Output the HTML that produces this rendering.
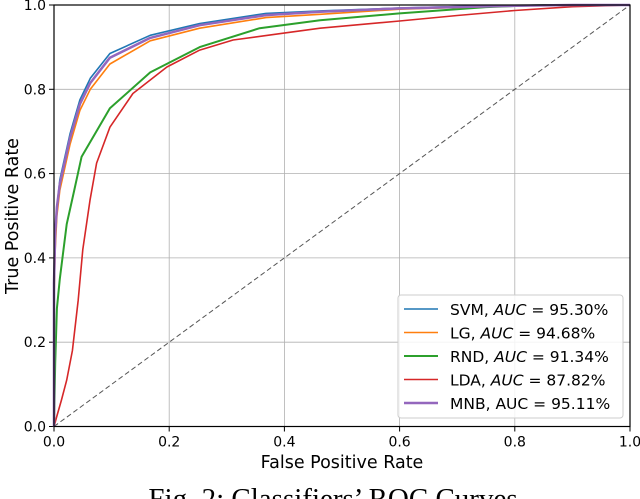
<!DOCTYPE html>
<html><head><meta charset="utf-8"><style>
html,body{margin:0;padding:0;background:#fff;width:640px;height:499px;overflow:hidden}
svg{display:block}
text{font-family:"DejaVu Sans","Liberation Sans",sans-serif}
text.serif{font-family:"Liberation Serif",serif}
</style></head><body>
<svg id="chart" width="640" height="499" xmlns="http://www.w3.org/2000/svg"></svg>
<script>
const xTicks=[0,0.2,0.4,0.6,0.8,1.0];
const yTicks=[0,0.2,0.4,0.6,0.8,1.0];
const tickLabels=["0.0","0.2","0.4","0.6","0.8","1.0"];
const svmFPR=[0,0,0.002,0.005,0.01,0.028,0.045,0.063,0.097,0.167,0.253,0.368,0.462,0.6,0.75,0.9,1];
const svmTPR=[0,0.33,0.45,0.52,0.585,0.695,0.775,0.826,0.885,0.928,0.956,0.98,0.986,0.993,0.998,1,1];
const lgFPR=[0,0,0.002,0.005,0.01,0.028,0.045,0.063,0.097,0.167,0.253,0.368,0.462,0.6,0.8,0.9,1];
const lgTPR=[0,0.3,0.42,0.5,0.56,0.67,0.75,0.80,0.86,0.915,0.945,0.97,0.978,0.99,0.998,1,1];
const rndFPR=[0,0.002,0.005,0.01,0.022,0.035,0.048,0.097,0.167,0.253,0.357,0.462,0.6,0.75,0.85,1];
const rndTPR=[0,0.15,0.28,0.35,0.48,0.56,0.64,0.755,0.84,0.90,0.945,0.964,0.98,0.995,1,1];
const ldaFPR=[0,0.005,0.013,0.022,0.032,0.042,0.05,0.0625,0.074,0.097,0.137,0.196,0.253,0.311,0.398,0.462,0.6,0.7,0.8,0.9,1];
const ldaTPR=[0,0.025,0.063,0.11,0.18,0.3,0.42,0.537,0.625,0.71,0.79,0.853,0.893,0.917,0.933,0.945,0.962,0.975,0.987,0.996,1];
const mnbFPR=[0,0,0.002,0.005,0.01,0.028,0.045,0.063,0.097,0.167,0.253,0.368,0.462,0.6,0.8,0.9,1];
const mnbTPR=[0,0.34,0.46,0.52,0.575,0.685,0.765,0.815,0.875,0.922,0.952,0.976,0.984,0.992,0.998,1,1];
const seriesNames=["SVM","LG","RND","LDA","MNB"];
const aucText=["95.30%","94.68%","91.34%","87.82%","95.11%"];
const colors=["#1f77b4","#ff7f0e","#2ca02c","#d62728","#9467bd"];
const widths=[1.6,1.6,2,1.6,2.5];

const NS="http://www.w3.org/2000/svg";
const svg=document.getElementById('chart');
const X0=54,X1=630,Y0=426.5,Y1=5;
const sx=v=>X0+(X1-X0)*v, sy=v=>Y0-(Y0-Y1)*v;
function mk(tag,attrs,parent){const e=document.createElementNS(NS,tag);for(const k in attrs)e.setAttribute(k,attrs[k]);(parent||svg).appendChild(e);return e;}

const grid=mk('g',{});


xTicks.forEach((t,i)=>{
  const l=mk('line',{x1:sx(t),x2:sx(t),y1:Y1,y2:Y0,stroke:'#b0b0b0','stroke-width':0.8},grid);
  
  
  const tk=mk('line',{x1:sx(t),x2:sx(t),y1:Y0,y2:Y0+5,stroke:'#000','stroke-width':1});
  
  
  const tx=mk('text',{x:sx(t),y:Y0+20,'text-anchor':'middle','font-size':14,fill:'#000'});
  tx.textContent=tickLabels[i];
  
  
});
yTicks.forEach((t,i)=>{
  const l=mk('line',{x1:X0,x2:X1,y1:sy(t),y2:sy(t),stroke:'#b0b0b0','stroke-width':0.8},grid);
  
  
  const tk=mk('line',{x1:X0-5,x2:X0,y1:sy(t),y2:sy(t),stroke:'#000','stroke-width':1});
  
  
  const tx=mk('text',{x:X0-8,y:sy(t)+5,'text-anchor':'end','font-size':14,fill:'#000'});
  tx.textContent=tickLabels[i];
  
  
});

const diag=mk('line',{x1:sx(0),y1:sy(0),x2:sx(1),y2:sy(1),stroke:'#555','stroke-width':1,'stroke-dasharray':'5,3'});



const data=[[svmFPR,svmTPR],[lgFPR,lgTPR],[rndFPR,rndTPR],[ldaFPR,ldaTPR],[mnbFPR,mnbTPR]];
const order=[3,2,1,0,4];
order.forEach(i=>{
  const [fx,ty]=data[i];
  const pts=fx.map((v,j)=>sx(v).toFixed(1)+','+sy(ty[j]).toFixed(1)).join(' ');
  const p=mk('polyline',{points:pts,fill:'none',stroke:colors[i],'stroke-width':widths[i],'stroke-linejoin':'round'});
  
  
});

const frame=mk('rect',{x:X0,y:Y1,width:X1-X0,height:Y0-Y1,fill:'none',stroke:'#000','stroke-width':1.2});



const lg=mk('g',{});


mk('rect',{x:398,y:295,width:225,height:123,rx:3,fill:'#fff','fill-opacity':0.85,stroke:'#ccc','stroke-width':1},lg);
seriesNames.forEach((n,i)=>{
  const y=309+i*23.5;
  const g=mk('g',{},lg);
  
  
  mk('line',{x1:404,x2:438,y1:y,y2:y,stroke:colors[i],'stroke-width':widths[i]},g);
  const t=mk('text',{x:450,y:y+6,'font-size':15.5,fill:'#000'},g);
  if(i===4){t.textContent=n+', AUC = '+aucText[i];}
  else{
    t.appendChild(document.createTextNode(n+', '));
    const it=mk('tspan',{'font-style':'italic'},t);it.textContent='AUC';
    t.appendChild(document.createTextNode(' = '+aucText[i]));
  }
});
</script>
<svg style="position:absolute;left:0;top:0" width="640" height="499" xmlns="http://www.w3.org/2000/svg">
<text transform="translate(18,216) rotate(-90)" text-anchor="middle" font-size="17.5">True Positive Rate</text>
<text x="342" y="468" text-anchor="middle" font-size="17.5">False Positive Rate</text>
<text class="serif" x="333" y="508" text-anchor="middle" font-size="29">Fig. 2: Classifiers’ ROC Curves</text>
</svg>
</body></html>
